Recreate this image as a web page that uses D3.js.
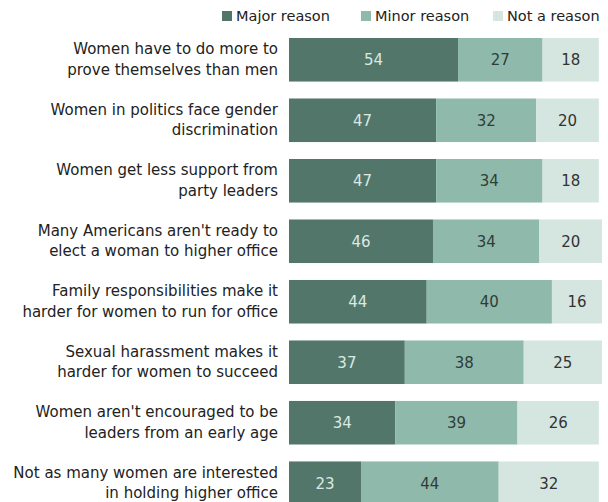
<!DOCTYPE html>
<html>
<head>
<meta charset="utf-8">
<script src="https://cdn.jsdelivr.net/npm/d3@7"></script>
<style>
  html, body { margin: 0; padding: 0; background: #fff; }
  svg { display: block; font-family: "DejaVu Sans", "Liberation Sans", Arial, sans-serif; }
</style>
</head>
<body>
<svg id="chart" width="608" height="502"></svg>
<script>
// Reasons why there are fewer women in high political office
const categories = [
  ["Women have to do more to", "prove themselves than men"],
  ["Women in politics face gender", "discrimination"],
  ["Women get less support from", "party leaders"],
  ["Many Americans aren't ready to", "elect a woman to higher office"],
  ["Family responsibilities make it", "harder for women to run for office"],
  ["Sexual harassment makes it", "harder for women to succeed"],
  ["Women aren't encouraged to be", "leaders from an early age"],
  ["Not as many women are interested", "in holding higher office"]
];
const seriesNames = ["Major reason", "Minor reason", "Not a reason"];
const majorReason = [54, 47, 47, 46, 44, 37, 34, 23];
const minorReason = [27, 32, 34, 34, 40, 38, 39, 44];
const notAReason  = [18, 20, 18, 20, 16, 25, 26, 32];

const colors = ["#52776a", "#8fbaab", "#d5e6e0"];
const textColors = ["#dbe8e3", "#2f3d38", "#333333"];

const rows = categories.map((c, i) => ({
  key: i, label: c,
  "Major reason": majorReason[i],
  "Minor reason": minorReason[i],
  "Not a reason": notAReason[i]
}));

const svg = d3.select("#chart");

const x = d3.scaleLinear().domain([0, 100]).range([289, 602]);
const y = d3.scaleBand().domain(d3.range(categories.length))
  .range([38, 505]).paddingInner(0.28).paddingOuter(0);

const stacked = d3.stack().keys(seriesNames)(rows);

const layer = svg.selectAll("g.layer").data(stacked).join("g")
  .attr("class", "layer")
  .attr("fill", (d, i) => colors[i]);

layer.selectAll("rect").data(d => d).join("rect")
  .attr("x", d => x(d[0]))
  .attr("y", d => y(d.data.key))
  .attr("width", d => x(d[1]) - x(d[0]))
  .attr("height", y.bandwidth());

// value labels centred in each segment
stacked.forEach((s, si) => {
  svg.append("g").selectAll("text").data(s).join("text")
    .attr("x", d => (x(d[0]) + x(d[1])) / 2)
    .attr("y", d => y(d.data.key) + y.bandwidth() / 2)
    .attr("dy", "0.36em")
    .attr("text-anchor", "middle")
    .attr("font-size", 15)
    .attr("fill", textColors[si])
    .text(d => d[1] - d[0]);
});

// category labels
const lab = svg.append("g").selectAll("text").data(rows).join("text")
  .attr("text-anchor", "end")
  .attr("font-size", 15)
  .attr("fill", "#222")
  .attr("y", d => y(d.key) + y.bandwidth() / 2);
lab.selectAll("tspan").data(d => d.label).join("tspan")
  .attr("x", 278)
  .attr("dy", (t, i) => i === 0 ? "-0.36em" : "1.35em")
  .text(t => t);

// legend
const legendX = [222, 361, 493];
const legend = svg.append("g").selectAll("g").data(seriesNames).join("g")
  .attr("transform", (d, i) => `translate(${legendX[i]},10)`);
legend.append("rect").attr("width", 10).attr("height", 10).attr("y", 1)
  .attr("fill", (d, i) => colors[i]);
legend.append("text").attr("x", 14).attr("y", 6).attr("dy", "0.36em")
  .attr("font-size", 14.5).attr("fill", "#222").text(d => d);
</script>
</body>
</html>
